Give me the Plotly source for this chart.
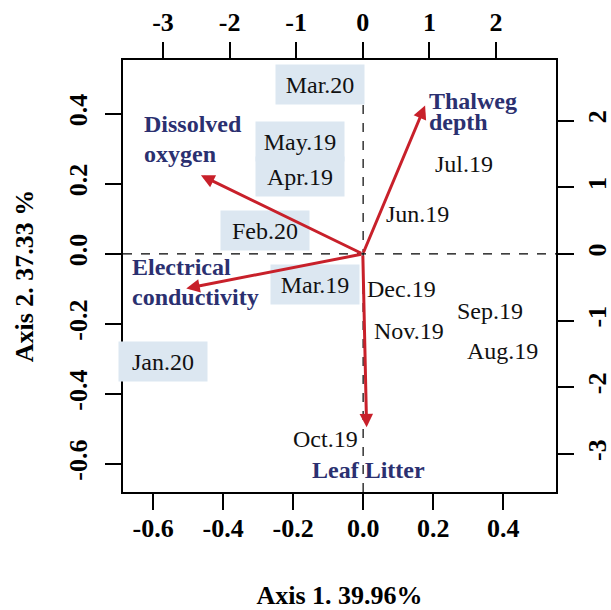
import plotly.graph_objects as go

# ---- data ----
sample_names = ["Mar.20", "May.19", "Apr.19", "Feb.20", "Mar.19", "Jan.20",
                "Jul.19", "Jun.19", "Dec.19", "Sep.19", "Nov.19", "Aug.19", "Oct.19"]
sample_x = [-0.123, -0.179, -0.179, -0.280, -0.137, -0.571,
            0.287, 0.156, 0.111, 0.362, 0.131, 0.399, -0.108]
sample_y = [0.484, 0.322, 0.222, 0.068, -0.088, -0.307,
            0.257, 0.115, -0.100, -0.164, -0.221, -0.278, -0.528]
sample_highlight = [True, True, True, True, True, True,
                    False, False, False, False, False, False, False]

var_names = ["Thalweg depth", "Dissolved oxygen", "Electrical conductivity", "Leaf Litter"]
var_x = [0.935, -2.43, -2.65, 0.057]
var_y = [2.227, 1.18, -0.516, -2.60]
var_label_text = [["Thalweg", "depth"], ["Dissolved", "oxygen"], ["Electrical", "conductivity"], ["Leaf Litter"]]
var_label_x = [0.96, -3.32, -3.50, 0.09]
var_label_y = [[2.30, 1.98], [1.95, 1.50], [-0.19, -0.64], [-3.24]]
var_label_anchor = ["left", "left", "left", "center"]

x_ticks = [-0.6, -0.4, -0.2, 0.0, 0.2, 0.4]
y_ticks = [-0.6, -0.4, -0.2, 0.0, 0.2, 0.4]
x2_ticks = [-3, -2, -1, 0, 1, 2]
y2_ticks = [-3, -2, -1, 0, 1, 2]

x_title = "Axis 1. 39.96%"
y_title = "Axis 2. 37.33 %"

# ---- style ----
SERIF = "Liberation Serif, Times New Roman, serif"
RED = "#C8202A"
NAVY = "#2B3070"
BOX = "#DCE7F1"

fig = go.Figure()

# invisible traces to activate axes
fig.add_trace(go.Scatter(x=sample_x, y=sample_y, mode="markers",
                         marker=dict(opacity=0), hoverinfo="skip", showlegend=False))
fig.add_trace(go.Scatter(x=var_x, y=var_y, xaxis="x2", yaxis="y2", mode="markers",
                         marker=dict(opacity=0), hoverinfo="skip", showlegend=False))

annotations = []
# sample labels
for name, sx, sy, hl in zip(sample_names, sample_x, sample_y, sample_highlight):
    a = dict(x=sx, y=sy, xref="x", yref="y", text=name, showarrow=False,
             font=dict(family=SERIF, size=24, color="#111111"),
             xanchor="center", yanchor="middle")
    if hl:
        a.update(bgcolor=BOX, width=86, height=37)
    annotations.append(a)

# arrows
for vx, vy in zip(var_x, var_y):
    annotations.append(dict(x=vx, y=vy, xref="x2", yref="y2", ax=0, ay=0,
                            axref="x2", ayref="y2", text="", showarrow=True,
                            arrowhead=2, arrowsize=0.9, arrowwidth=3,
                            arrowcolor=RED, standoff=0, startstandoff=0))

# variable labels
for lines, lx, lys, anc in zip(var_label_text, var_label_x, var_label_y, var_label_anchor):
    for ln, ly in zip(lines, lys):
        a = dict(x=lx, y=ly, xref="x2", yref="y2", text="<b>" + ln + "</b>",
                 showarrow=False, xanchor=anc, yanchor="middle",
                 font=dict(family=SERIF, size=24, color=NAVY))
        annotations.append(a)

fig.update_layout(annotations=annotations)

# dashed zero lines
fig.add_shape(type="line", xref="x", yref="paper", x0=0, x1=0, y0=0, y1=1,
              line=dict(color="black", width=1.2, dash="dash"), layer="below")
fig.add_shape(type="line", xref="paper", yref="y", x0=0, x1=1, y0=0, y1=0,
              line=dict(color="black", width=1.2, dash="dash"), layer="below")

tickfont = dict(family=SERIF, size=26, color="black")
axis_common = dict(showgrid=False, zeroline=False, showline=True, linecolor="black",
                   linewidth=2, ticks="outside", ticklen=16, tickwidth=2, tickcolor="black",
                   tickfont=tickfont, automargin=False)

fig.update_layout(
    width=611, height=610,
    margin=dict(l=123, r=55, t=60, b=118),
    paper_bgcolor="white", plot_bgcolor="white",
    showlegend=False,
    xaxis=dict(range=[-0.686, 0.551], tickvals=x_ticks,
               ticktext=["<b>%.1f</b>" % v for v in x_ticks],
               ticklabelstandoff=-4,
               title=dict(text="<b>" + x_title + "</b>", font=dict(family=SERIF, size=26, color="black"),
                          standoff=50),
               **axis_common),
    yaxis=dict(range=[-0.680, 0.554], tickvals=y_ticks,
               ticktext=["<b>%.1f</b>" % v for v in y_ticks],
               tickangle=-90, ticklabelstandoff=8,
               title=dict(text="<b>" + y_title + "</b>", font=dict(family=SERIF, size=26, color="black"),
                          standoff=22),
               **axis_common),
    xaxis2=dict(range=[-3.60, 2.90], tickvals=x2_ticks,
                ticktext=["<b>%d</b>" % v for v in x2_ticks],
                overlaying="x", side="top", anchor="y", ticklabelstandoff=1,
                **axis_common),
    yaxis2=dict(range=[-3.57, 2.91], tickvals=y2_ticks,
                ticktext=["<b>%d</b>" % v for v in y2_ticks],
                overlaying="y", side="right", anchor="x", tickangle=-90, ticklabelstandoff=1,
                **axis_common),
)

fig.write_html("out.html")
